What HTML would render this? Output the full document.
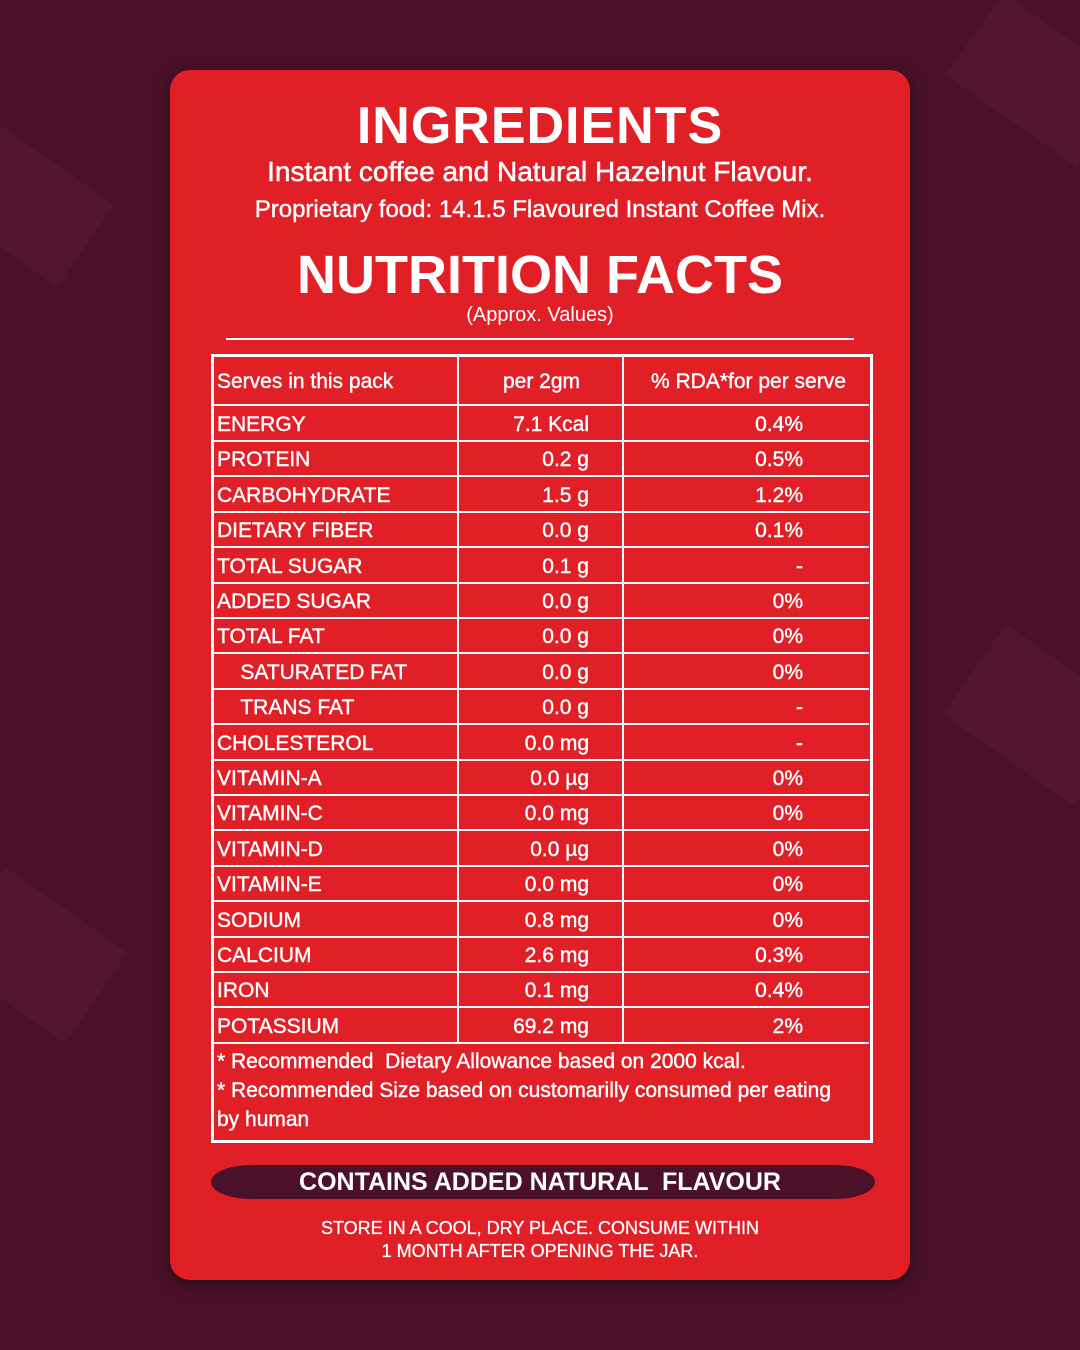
<!DOCTYPE html>
<html style="margin:0;width:1080px;height:1350px;overflow:hidden"><head><style>
body{margin:0;width:1080px;height:1350px;background:#4b1129;position:relative;overflow:hidden;font-family:"Liberation Sans",sans-serif;color:#fff}
.bgs{position:absolute;background:#54152f;transform:rotate(35deg)}
.card{position:absolute;left:170px;top:70px;width:740px;height:1210px;background:#e11f27;border-radius:20px;box-shadow:0 4px 14px rgba(0,0,0,.5)}
.c{position:absolute;left:0;width:1080px;text-align:center}
.tbl{position:absolute;left:211px;top:354px;width:662px;height:789px;border:3px solid #fff;box-sizing:border-box}
.r{position:absolute;left:213px;width:656px;height:35px;font-size:21px;line-height:35px;-webkit-text-stroke:0.4px #fff}
.r span{position:absolute}
.hl{position:absolute;background:#fff;height:2px;left:213px;width:656px}
.vl{position:absolute;background:#fff;width:2px}
</style></head><body>
<div class="bgs" style="left:-60px;top:150px;width:160px;height:100px"></div>
<div class="bgs" style="left:960px;top:660px;width:160px;height:110px"></div>
<div class="bgs" style="left:-40px;top:900px;width:150px;height:110px"></div>
<div class="bgs" style="left:960px;top:30px;width:160px;height:100px"></div>
<div class="card"></div>
<div class="c" style="top:96px;font-size:52px;font-weight:bold;letter-spacing:1px">INGREDIENTS</div>
<div class="c" style="top:156px;font-size:28px;-webkit-text-stroke:0.5px #fff">Instant coffee and Natural Hazelnut Flavour.</div>
<div class="c" style="top:196px;font-size:24px;-webkit-text-stroke:0.4px #fff">Proprietary food: 14.1.5 Flavoured Instant Coffee Mix.</div>
<div class="c" style="top:244px;font-size:54px;font-weight:bold">NUTRITION FACTS</div>
<div class="c" style="top:304px;font-size:20px">(Approx. Values)</div>
<div style="position:absolute;left:226px;top:338px;width:628px;height:2px;background:#fff"></div>
<div class="tbl"></div>
<div class="hl" style="top:404px"></div>
<div class="vl" style="left:457px;top:357px;height:686px"></div>
<div class="vl" style="left:622px;top:357px;height:686px"></div>
<div class="r" style="top:364px;font-size:21px"><span style="left:4px">Serves in this pack</span><span style="left:290px">per 2gm</span><span style="left:438px">% RDA*for per serve</span></div>
<div id="rows"></div>
<div style="position:absolute;left:217px;top:1047px;font-size:21px;line-height:29px;width:650px;-webkit-text-stroke:0.4px #fff">* Recommended &nbsp;Dietary Allowance based on 2000 kcal.<br>* Recommended Size based on customarilly consumed per eating<br>by human</div>
<div style="position:absolute;left:211px;top:1165px;width:664px;height:34px;background:#4b1129;border-radius:40px/17px"></div>
<div class="c" style="top:1168px;font-size:25px;font-weight:bold">CONTAINS ADDED NATURAL &nbsp;FLAVOUR</div>
<div class="c" style="top:1217px;font-size:18px;line-height:23px;-webkit-text-stroke:0.3px #fff">STORE IN A COOL, DRY PLACE. CONSUME WITHIN<br>1 MONTH AFTER OPENING THE JAR.</div>
<script>
var d=[["ENERGY","7.1 Kcal","0.4%"],["PROTEIN","0.2 g","0.5%"],["CARBOHYDRATE","1.5 g","1.2%"],["DIETARY FIBER","0.0 g","0.1%"],["TOTAL SUGAR","0.1 g","-"],["ADDED SUGAR","0.0 g","0%"],["TOTAL FAT","0.0 g","0%"],["&nbsp;&nbsp;&nbsp;&nbsp;SATURATED FAT","0.0 g","0%"],["&nbsp;&nbsp;&nbsp;&nbsp;TRANS FAT","0.0 g","-"],["CHOLESTEROL","0.0 mg","-"],["VITAMIN-A","0.0 µg","0%"],["VITAMIN-C","0.0 mg","0%"],["VITAMIN-D","0.0 µg","0%"],["VITAMIN-E","0.0 mg","0%"],["SODIUM","0.8 mg","0%"],["CALCIUM","2.6 mg","0.3%"],["IRON","0.1 mg","0.4%"],["POTASSIUM","69.2 mg","2%"]];
var h="";
for(var i=0;i<d.length;i++){var t=406+i*35.4;
h+='<div class="r" style="top:'+(t+1)+'px"><span style="left:4px">'+d[i][0]+'</span><span style="right:280px">'+d[i][1]+'</span><span style="right:66px">'+d[i][2]+'</span></div>';
h+='<div class="hl" style="top:'+(t+34)+'px"></div>';}
document.getElementById("rows").innerHTML=h;
</script>
</body></html>
